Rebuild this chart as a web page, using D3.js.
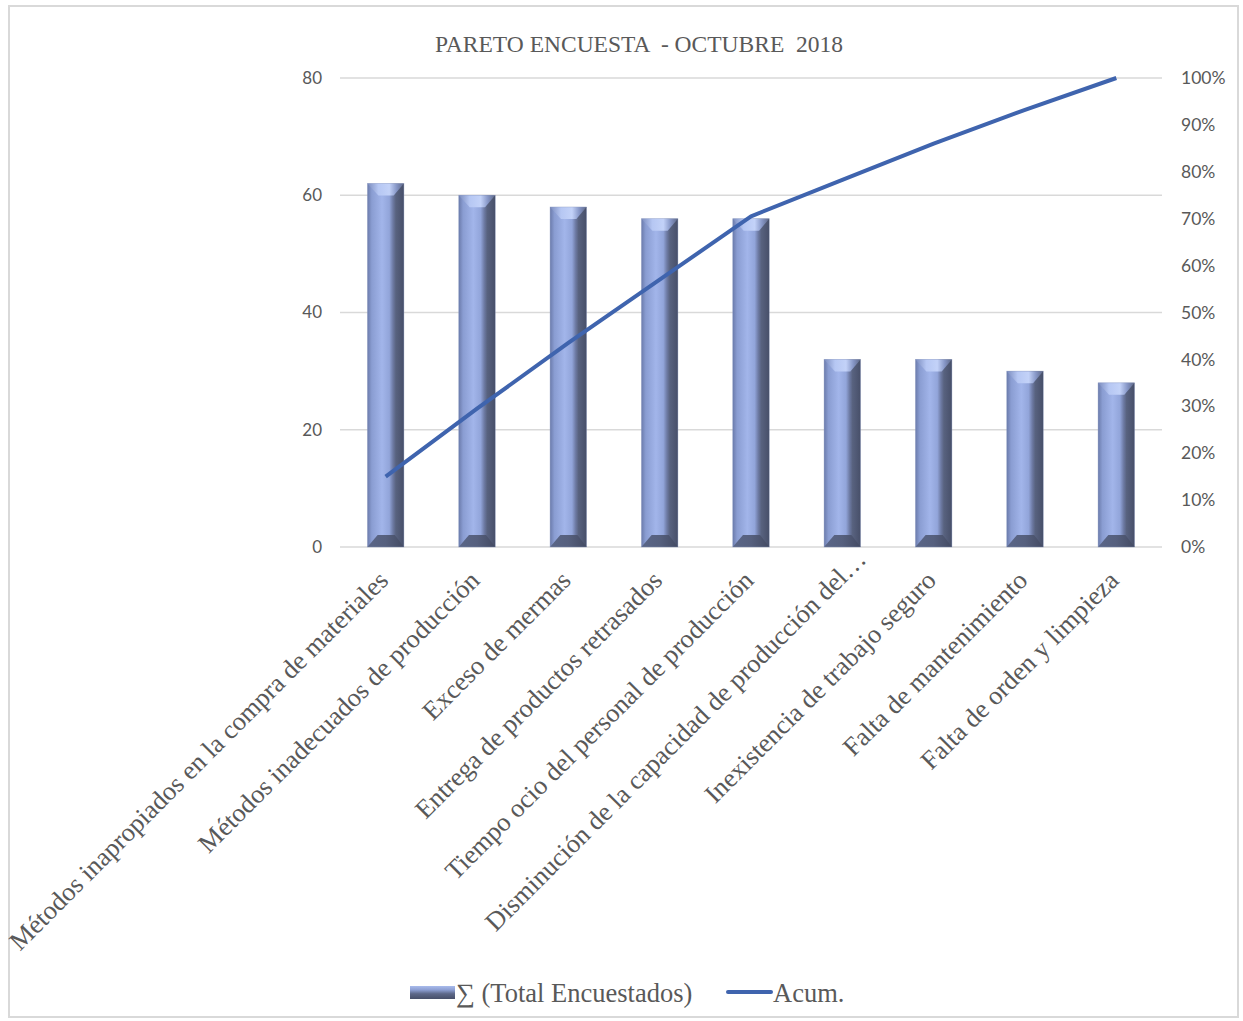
<!DOCTYPE html>
<html><head><meta charset="utf-8">
<script src="https://cdn.jsdelivr.net/npm/d3@7"></script>
<style>body{margin:0;background:#fff}svg{display:block}</style>
</head><body>
<script>
const categories = [
  "Métodos inapropiados en la compra de materiales",
  "Métodos inadecuados de producción",
  "Exceso de mermas",
  "Entrega de productos retrasados",
  "Tiempo ocio del personal de producción",
  "Disminución de la capacidad de producción del…",
  "Inexistencia de trabajo seguro",
  "Falta de mantenimiento",
  "Falta de orden y limpieza"
];
const totals = [62, 60, 58, 56, 56, 32, 32, 30, 28];
const acum = [15.0, 29.5, 43.5, 57.0, 70.5, 78.3, 86.0, 93.2, 100.0];
const leftTicks = [0, 20, 40, 60, 80];
const rightTicks = [0, 10, 20, 30, 40, 50, 60, 70, 80, 90, 100];
const title = "PARETO ENCUESTA  - OCTUBRE  2018";

const W = 1243, H = 1021;
const svg = d3.select("body").append("svg").attr("width", W).attr("height", H);
const defs = svg.append("defs");
const g1 = defs.append("linearGradient").attr("id","barGrad").attr("x1","0").attr("x2","1").attr("y1","0").attr("y2","0");
[[0,"#6b7bab"],[0.12,"#8a9dd2"],[0.4,"#a2b5ea"],[0.6,"#92a5da"],[0.7,"#6d7aa3"],[0.78,"#58627f"],[1,"#474f69"]]
  .forEach(([o,c])=>g1.append("stop").attr("offset",o).attr("stop-color",c));
const g2 = defs.append("linearGradient").attr("id","topGrad").attr("x1","0").attr("x2","1").attr("y1","0").attr("y2","0");
[[0,"#7a8bbd"],[0.3,"#b6c7f3"],[0.6,"#c3d2f8"],[0.8,"#8696c6"],[1,"#5d6786"]]
  .forEach(([o,c])=>g2.append("stop").attr("offset",o).attr("stop-color",c));
const g3 = defs.append("linearGradient").attr("id","botGrad").attr("x1","0").attr("x2","1").attr("y1","0").attr("y2","0");
[[0,"#5a6688"],[0.5,"#56607e"],[1,"#434a62"]]
  .forEach(([o,c])=>g3.append("stop").attr("offset",o).attr("stop-color",c));
const g4 = defs.append("linearGradient").attr("id","legGrad").attr("x1","0").attr("x2","0").attr("y1","0").attr("y2","1");
[[0,"#a9bbec"],[0.3,"#8c9ed2"],[0.6,"#5d6889"],[1,"#474f69"]]
  .forEach(([o,c])=>g4.append("stop").attr("offset",o).attr("stop-color",c));

// chart border
svg.append("rect").attr("x",9).attr("y",6).attr("width",1229).attr("height",1011)
  .attr("fill","none").attr("stroke","#d9d9d9").attr("stroke-width",2);

const x0 = 340, x1 = 1162, yTop = 78, yBot = 547;
const x = d3.scaleBand().domain(categories).range([x0, x1]).paddingInner(0.6).paddingOuter(0.3);
const y = d3.scaleLinear().domain([0, 80]).range([yBot, yTop]);
const y2 = d3.scaleLinear().domain([0, 100]).range([yBot, yTop]);

// title
svg.append("text").attr("x", 639).attr("y", 52).attr("text-anchor","middle")
  .style("white-space","pre")
  .attr("font-family","Liberation Serif, Times New Roman, serif").attr("font-size",23.5)
  .attr("fill","#595959").text(title);

// gridlines
svg.append("g").selectAll("line").data(leftTicks).join("line")
  .attr("x1", x0).attr("x2", x1).attr("y1", d=>y(d)).attr("y2", d=>y(d))
  .attr("stroke","#d9d9d9").attr("stroke-width",1.3);

// left axis
const la = svg.append("g").attr("transform",`translate(${x0},0)`)
  .call(d3.axisLeft(y).tickValues(leftTicks).tickSize(0).tickPadding(18));
la.select(".domain").remove();
la.selectAll("text").attr("font-family","Lato, Open Sans, sans-serif").attr("font-size",17).attr("fill","#595959");

// right axis
const ra = svg.append("g").attr("transform",`translate(${x1},0)`)
  .call(d3.axisRight(y2).tickValues(rightTicks).tickSize(0).tickPadding(19).tickFormat(d=>d+"%"));
ra.select(".domain").remove();
ra.selectAll("text").attr("font-family","Lato, Open Sans, sans-serif").attr("font-size",17.5).attr("fill","#595959");

// bars
const bars = svg.append("g").selectAll("g").data(categories).join("g");
bars.each(function(c,i){
  const g = d3.select(this);
  const bx = x(c), bw = x.bandwidth(), by = y(totals[i]), bb = y(0);
  g.append("rect").attr("x",bx).attr("y",by).attr("width",bw).attr("height",bb-by).attr("fill","url(#barGrad)");
  const cap = 12;
  g.append("polygon").attr("points",[[bx,by],[bx+bw,by],[bx+bw*0.72,by+cap],[bx+bw*0.3,by+cap]].map(p=>p.join(",")).join(" "))
    .attr("fill","url(#topGrad)");
  g.append("polygon").attr("points",[[bx,bb],[bx+bw,bb],[bx+bw*0.75,bb-cap],[bx+bw*0.28,bb-cap]].map(p=>p.join(",")).join(" "))
    .attr("fill","url(#botGrad)");
  g.append("rect").attr("x",bx).attr("y",by).attr("width",bw).attr("height",bb-by)
    .attr("fill","none").attr("stroke","#8a97bf").attr("stroke-width",0.6).attr("stroke-opacity",0.6);
});

// line
const line = d3.line().x((d,i)=>x(categories[i])+x.bandwidth()/2).y(d=>y2(d));
svg.append("path").datum(acum).attr("d", line).attr("fill","none")
  .attr("stroke","#3f64ae").attr("stroke-width",4).attr("stroke-linejoin","round");

// category labels (truncated label sits further along its baseline, as in the original)
svg.append("g").selectAll("text").data(categories).join("text")
  .attr("transform", c=>`translate(${x(c)+x.bandwidth()/2+4},582) rotate(-45)`)
  .attr("dx", c=>c.endsWith("…") ? 30 : 0)
  .attr("text-anchor","end")
  .attr("font-family","Liberation Serif, Times New Roman, serif").attr("font-size",26.3)
  .attr("fill","#595959").text(c=>c);

// legend
const lg = svg.append("g");
lg.append("rect").attr("x",410).attr("y",986).attr("width",45).attr("height",13).attr("fill","url(#legGrad)");
lg.append("text").attr("x",456).attr("y",1002)
  .attr("font-family","Liberation Serif, Times New Roman, serif").attr("font-size",26.5)
  .attr("fill","#595959").text("∑ (Total Encuestados)");
lg.append("line").attr("x1",728).attr("x2",771).attr("y1",992).attr("y2",992)
  .attr("stroke","#3f64ae").attr("stroke-width",4).attr("stroke-linecap","round");
lg.append("text").attr("x",773).attr("y",1002)
  .attr("font-family","Liberation Serif, Times New Roman, serif").attr("font-size",26.5)
  .attr("fill","#595959").text("Acum.");
</script>
</body></html>
